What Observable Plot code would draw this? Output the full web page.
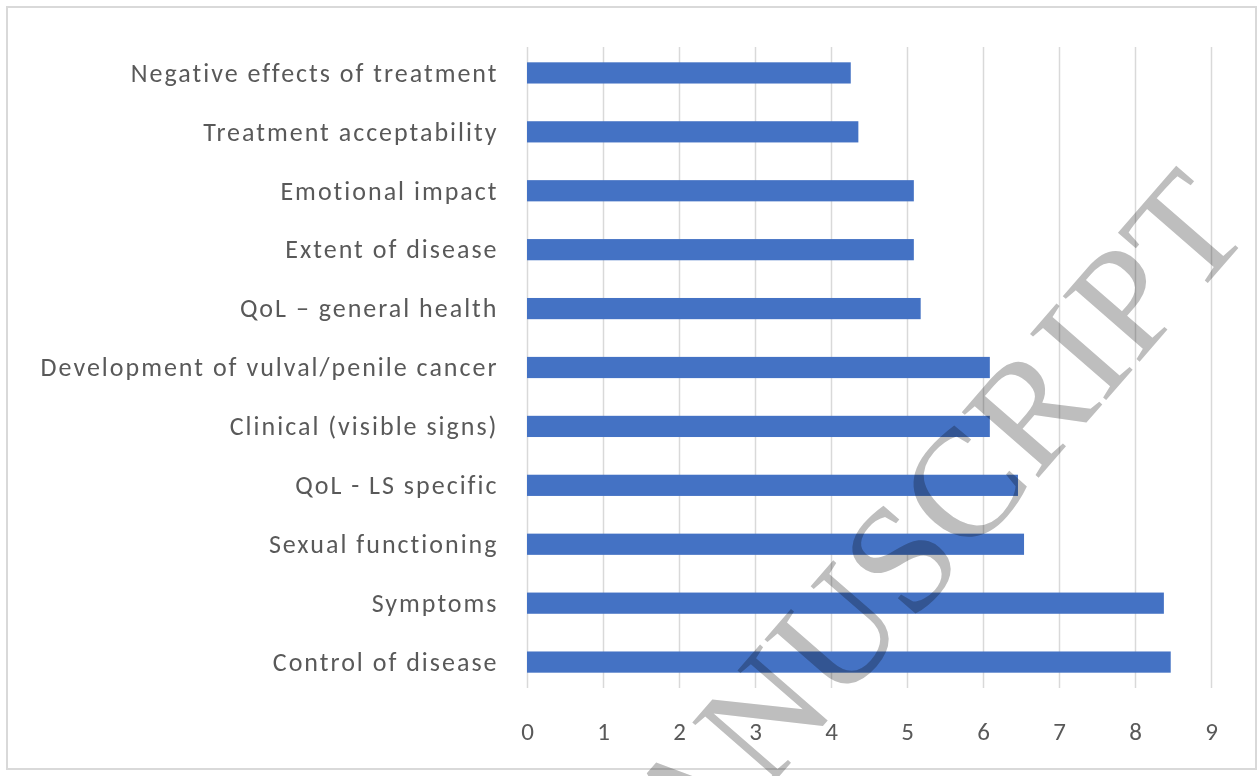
<!DOCTYPE html>
<html><head><meta charset="utf-8">
<script src="https://cdn.jsdelivr.net/npm/d3@7"></script>
<script src="https://cdn.jsdelivr.net/npm/@observablehq/plot@0.6"></script>
<style>
html,body{margin:0;padding:0;background:#fff;}
#wrap{position:relative;width:1259px;height:776px;overflow:hidden;background:#fff;}
#chart{position:absolute;left:0;top:0;}
#frame{position:absolute;left:6px;top:6px;width:1247px;height:760px;border:2px solid #d9d9d9;pointer-events:none;}
#wm{position:absolute;left:0;top:0;pointer-events:none;}
#wm text{mix-blend-mode:multiply;}
</style></head><body>
<div id="wrap"><div id="chart"></div><div id="frame"></div>
<svg id="wm" width="1259" height="776"><text id="wmtext" x="1254" y="230" text-anchor="end" transform="rotate(-49 1254 230)" font-family="'Liberation Serif', 'DejaVu Serif', serif" font-size="154" fill="#bebebe">ACCEPTED MANUSCRIPT</text></svg>
</div>
<script>
const categories = [
  "Negative effects of treatment",
  "Treatment acceptability",
  "Emotional impact",
  "Extent of disease",
  "QoL \u2013 general health",
  "Development of vulval/penile cancer",
  "Clinical (visible signs)",
  "QoL - LS specific",
  "Sexual functioning",
  "Symptoms",
  "Control of disease"
];
const values = [4.26, 4.36, 5.09, 5.09, 5.18, 6.09, 6.09, 6.46, 6.54, 8.38, 8.47];
const xTicks = [0, 1, 2, 3, 4, 5, 6, 7, 8, 9];

const data = categories.map((c, i) => ({category: c, value: values[i]}));

const chart = Plot.plot({
  width: 1259,
  height: 776,
  marginLeft: 527,
  marginRight: 48,
  marginTop: 47,
  marginBottom: 88,
  style: {fontFamily: "Carlito, Lato, sans-serif", color: "#595959", background: "transparent", overflow: "visible", letterSpacing: "2px"},
  x: {domain: [0, 9]},
  y: {domain: categories, paddingInner: 0.64, paddingOuter: 0.26, round: false},
  marks: [
    Plot.gridX(xTicks, {stroke: "#d9d9d9", strokeOpacity: 1, strokeWidth: 1.5}),
    Plot.barX(data, {x: "value", y: "category", fill: "#4472c4"}),
    Plot.axisX(xTicks, {tickSize: 0, tickPadding: 34, fontSize: 25, dx: 1, label: null}),
    Plot.axisY({tickSize: 0, tickPadding: 29, fontSize: 26, label: null})
  ]
});
document.getElementById("chart").appendChild(chart);
</script>
</body></html>
